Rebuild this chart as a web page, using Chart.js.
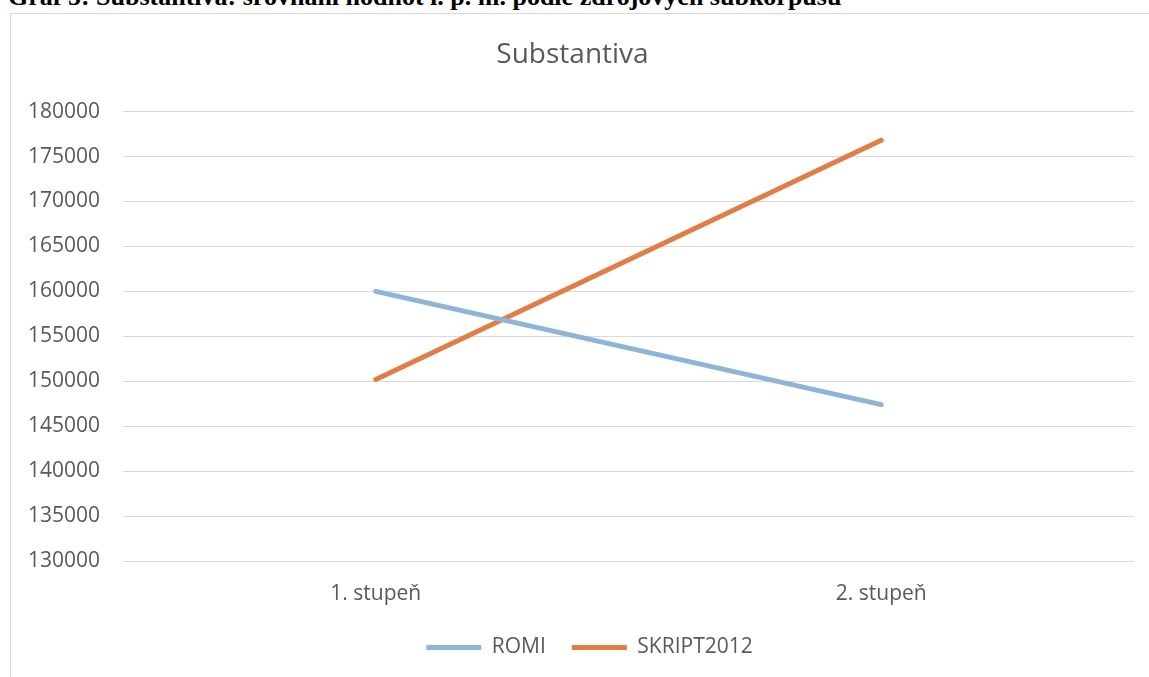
<!DOCTYPE html>
<html>
<head>
<meta charset="utf-8">
<script src="https://cdn.jsdelivr.net/npm/chart.js@4/dist/chart.umd.min.js"></script>
<style>
  html, body { margin: 0; padding: 0; background: #fff; overflow: hidden; width: 1149px; height: 677px; }
  #caption { position: absolute; left: 8px; top: -16px; line-height: 26px; font-family: "Liberation Serif", "Times New Roman", serif; font-weight: bold; font-size: 26px; color: #000; white-space: nowrap; }
  #frame { position: absolute; left: 10px; top: 13px; width: 1150px; height: 700px; border: 1px solid #d9d9d9; box-sizing: border-box; background: #fff; }
  #wrap { position: absolute; left: 11px; top: 14px; width: 1138px; height: 663px; }
</style>
</head>
<body>
<div id="caption">Graf 5: Substantiva: srovnání hodnot i. p. m. podle zdrojových subkorpusů</div>
<div id="frame"></div>
<div id="wrap"><canvas id="c"></canvas></div>
<script>
const chartTitle = "Substantiva";
const categories = ["1. stupeň", "2. stupeň"];
const seriesNames = ["ROMI", "SKRIPT2012"];
const romiValues = [160000, 147400];
const skriptValues = [150200, 176800];
const yTicks = [130000, 135000, 140000, 145000, 150000, 155000, 160000, 165000, 170000, 175000, 180000];

const colors = ["#8FB4D6", "#E07E45"];
const textColor = "#595959";
const fontFamily = "'Open Sans', 'Liberation Sans', sans-serif";

const legendShift = {
  id: "legendShift",
  afterLayout(chart) {
    if (chart.legend) { chart.legend.left += 17; chart.legend.right += 17; }
  }
};

new Chart(document.getElementById("c"), {
  type: "line",
  data: {
    labels: categories,
    datasets: [
      { label: seriesNames[0], data: romiValues, borderColor: colors[0], backgroundColor: colors[0], borderWidth: 5, pointRadius: 0, borderCapStyle: "round", tension: 0 },
      { label: seriesNames[1], data: skriptValues, borderColor: colors[1], backgroundColor: colors[1], borderWidth: 5, pointRadius: 0, borderCapStyle: "round", tension: 0 }
    ]
  },
  plugins: [legendShift],
  options: {
    responsive: true,
    maintainAspectRatio: false,
    animation: false,
    layout: { padding: { left: 0, right: 15, top: 0, bottom: 9 } },
    plugins: {
      title: {
        display: true, text: chartTitle, color: textColor,
        font: { family: fontFamily, size: 28, weight: "normal" },
        padding: { top: 24, bottom: 40 }
      },
      legend: {
        position: "bottom",
        labels: {
          color: textColor, font: { family: fontFamily, size: 21 },
          boxWidth: 55, boxHeight: 5, padding: 26,
          generateLabels(chart) {
            return chart.data.datasets.map((ds, i) => ({
              text: ds.label, fillStyle: ds.borderColor, strokeStyle: ds.borderColor,
              lineWidth: 0, hidden: false, datasetIndex: i, fontColor: textColor
            }));
          }
        }
      },
      tooltip: { enabled: false }
    },
    scales: {
      x: {
        offset: true,
        grid: { display: false, drawTicks: false },
        border: { display: false },
        ticks: { color: textColor, font: { family: fontFamily, size: 21 }, padding: 20 },
        afterFit(axis) { axis.height = 50; }
      },
      y: {
        min: yTicks[0], max: yTicks[yTicks.length - 1],
        afterBuildTicks(axis) { axis.ticks = yTicks.map(v => ({ value: v })); },
        afterFit(axis) { axis.width = 112; },
        grid: { color: "#d9d9d9", lineWidth: 1, drawTicks: false },
        border: { display: false },
        ticks: { color: textColor, font: { family: fontFamily, size: 21 }, padding: 23, callback: v => String(v) }
      }
    }
  }
});
</script>
</body>
</html>
